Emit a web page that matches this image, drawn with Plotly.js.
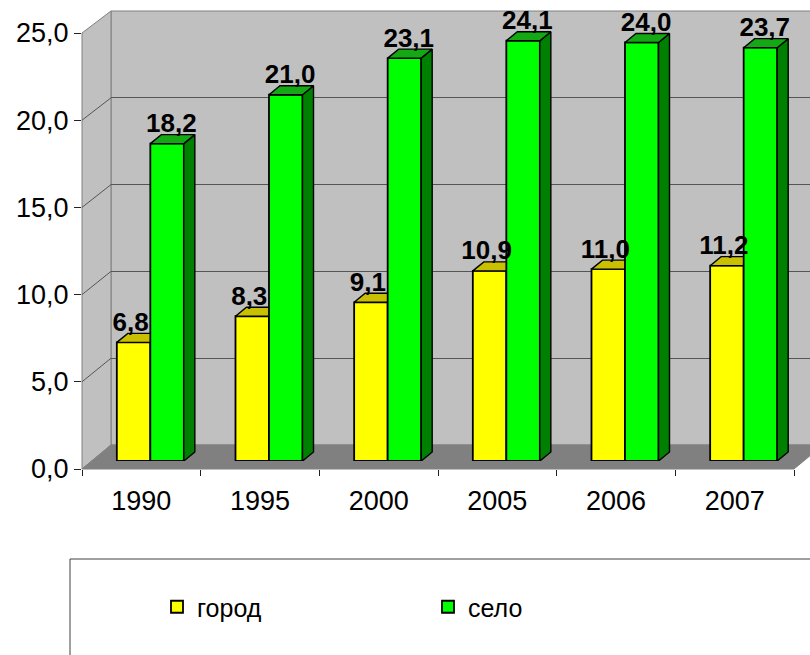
<!DOCTYPE html>
<html><head><meta charset="utf-8">
<script src="https://cdn.plot.ly/plotly-3.0.1.min.js"></script>
<style>html,body{margin:0;padding:0;background:#fff;}#chart{width:810px;height:655px;}</style>
</head><body><div id="chart"></div>
<script>
// ---- data ----
const years = ['1990', '1995', '2000', '2005', '2006', '2007'];
const gorod = [6.8, 8.3, 9.1, 10.9, 11.0, 11.2];
const selo = [18.2, 21.0, 23.1, 24.1, 24.0, 23.7];
const seriesNames = ['город', 'село'];
const yTicks = [0, 5, 10, 15, 20, 25];

// ---- geometry (pixels) ----
const W = 810, H = 655;
const FX0 = 82, FX1 = 794, FY0 = 469, FY25 = 33;   // front plane (axes)
const BX0 = 111, BY0 = 445, BY25 = 11;             // back wall
const PDX = 9, PDY = 8;                             // bar plane offset
const DPX = 11, DPY = 9;                            // bar depth
const px = x => x / W, py = y => 1 - y / H;
const catPx = (FX1 - FX0) / years.length;
const valPx = (FY0 - FY25) / 25;
const ddx = DPX / catPx, ddy = DPY / valPx;
const bw = 0.2824;
const fmt = v => v.toFixed(1).replace('.', ',');

const idx = years.map((_, i) => i);
const xG = idx.map(i => i - bw / 2), xS = idx.map(i => i + bw / 2);

function topFaces(xc, vals) {
  const X = [], Y = [];
  xc.forEach((c, i) => { const l = c - bw / 2, r = c + bw / 2, v = vals[i];
    X.push(l, l + ddx, r + ddx, r, l, null); Y.push(v, v + ddy, v + ddy, v, v, null); });
  return {X, Y};
}
function sideFaces(xc, vals) {
  const X = [], Y = [];
  xc.forEach((c, i) => { const r = c + bw / 2, v = vals[i];
    X.push(r, r + ddx, r + ddx, r, r, null); Y.push(0, ddy, v + ddy, v, 0, null); });
  return {X, Y};
}
const gTop = topFaces(xG, gorod), sTop = topFaces(xS, selo), sSide = sideFaces(xS, selo);
const labDy = (DPY - 4) / valPx;

const common = {xaxis: 'x3', yaxis: 'y3', hoverinfo: 'skip'};
const labelFont = {family: 'Liberation Sans, Arial, sans-serif', size: 26, color: '#000', weight: 'bold'};
const traces = [
  {type: 'scatter', x: [0], y: [null], xaxis: 'x', yaxis: 'y', showlegend: false, hoverinfo: 'skip'},
  {type: 'scatter', x: years, y: years.map(() => null), xaxis: 'x2', yaxis: 'y2', showlegend: false, hoverinfo: 'skip'},
  Object.assign({type: 'bar', x: xG, y: gorod, width: bw, name: seriesNames[0],
    marker: {color: '#ffff00', line: {color: '#000', width: 1.8}}, zorder: 0}, common),
  Object.assign({type: 'scatter', mode: 'lines', x: gTop.X, y: gTop.Y, fill: 'toself', fillcolor: '#c8c000',
    line: {color: '#000', width: 1.4}, showlegend: false, zorder: 1, cliponaxis: false}, common),
  Object.assign({type: 'bar', x: xS, y: selo, width: bw, name: seriesNames[1],
    marker: {color: '#00ff00', line: {color: '#000', width: 1.8}}, zorder: 2}, common),
  Object.assign({type: 'scatter', mode: 'lines', x: sSide.X, y: sSide.Y, fill: 'toself', fillcolor: '#008000',
    line: {color: '#000', width: 1.4}, showlegend: false, zorder: 3, cliponaxis: false}, common),
  Object.assign({type: 'scatter', mode: 'lines', x: sTop.X, y: sTop.Y, fill: 'toself', fillcolor: '#14a814',
    line: {color: '#000', width: 1.4}, showlegend: false, zorder: 3, cliponaxis: false}, common),
  Object.assign({type: 'scatter', mode: 'text', x: xG.map(c => c - 0.025), y: gorod.map(v => v + labDy),
    text: gorod.map(fmt), textposition: 'top center', textfont: labelFont,
    showlegend: false, zorder: 4, cliponaxis: false}, common),
  Object.assign({type: 'scatter', mode: 'text', x: xS.map(c => c + ddx / 2 - 0.01), y: selo.map(v => v + labDy),
    text: selo.map(fmt), textposition: 'top center', textfont: labelFont,
    showlegend: false, zorder: 4, cliponaxis: false}, common)
];

// ---- decorative walls ----
const shapes = [];
shapes.push({type: 'rect', xref: 'paper', yref: 'paper', x0: px(BX0), x1: 1.05, y0: py(BY0), y1: py(BY25),
  fillcolor: '#c0c0c0', line: {color: '#808080', width: 1}, layer: 'below'});
shapes.push({type: 'path', xref: 'paper', yref: 'paper', layer: 'below', fillcolor: '#c0c0c0',
  line: {color: '#808080', width: 1},
  path: `M ${px(FX0)} ${py(FY25)} L ${px(BX0)} ${py(BY25)} L ${px(BX0)} ${py(BY0)} L ${px(FX0)} ${py(FY0)} Z`});
shapes.push({type: 'path', xref: 'paper', yref: 'paper', layer: 'below', fillcolor: '#808080',
  line: {color: '#808080', width: 1},
  path: `M ${px(FX0)} ${py(FY0)} L ${px(BX0)} ${py(BY0)} L ${px(FX1 + (BX0 - FX0))} ${py(BY0)} L ${px(FX1)} ${py(FY0)} Z`});
yTicks.slice(1, -1).forEach(v => {
  const yf = FY0 - v * valPx, yb = BY0 - v * (BY0 - BY25) / 25;
  shapes.push({type: 'line', xref: 'paper', yref: 'paper', layer: 'below', x0: px(FX0), y0: py(yf), x1: px(BX0), y1: py(yb),
    line: {color: '#555555', width: 1}});
});
// legend frame
shapes.push({type: 'rect', xref: 'paper', yref: 'paper', layer: 'below', x0: px(70), x1: 1.05, y0: py(559), y1: -0.05,
  fillcolor: '#ffffff', line: {color: '#404040', width: 1}});

const tickFont = {family: 'Liberation Sans, Arial, sans-serif', size: 27, color: '#000'};
const barTopPx = FY0 - PDY;
const layout = {
  width: W, height: H, margin: {l: 0, r: 0, t: 0, b: 0},
  paper_bgcolor: '#ffffff', plot_bgcolor: 'rgba(0,0,0,0)',
  separators: ', ', barmode: 'overlay', showlegend: true,
  xaxis: {domain: [px(BX0), 1], anchor: 'y', range: [0, 1], showgrid: false, zeroline: false, showticklabels: false, ticks: '', fixedrange: true},
  yaxis: {domain: [py(BY0), py(BY25)], anchor: 'x', range: [0, 25], tickvals: yTicks, showgrid: true, gridcolor: '#555555', gridwidth: 1,
    zeroline: false, showticklabels: false, ticks: '', showline: false, fixedrange: true},
  xaxis2: {domain: [px(FX0), px(FX1)], anchor: 'y2', type: 'category', categoryorder: 'array', categoryarray: years,
    range: [-0.5, years.length - 0.5], tickson: 'boundaries', ticks: 'outside', ticklen: 6, tickcolor: '#222',
    ticklabelstandoff: 8,
    showline: true, linecolor: '#222', linewidth: 1, showgrid: false, zeroline: false, tickfont: tickFont, fixedrange: true},
  yaxis2: {domain: [py(FY0), py(FY25)], anchor: 'x2', range: [0, 25], tickvals: yTicks, tickformat: '.1f',
    ticks: 'outside', ticklen: 7, tickcolor: '#222', showline: true, linecolor: '#555', linewidth: 1,
    showgrid: false, zeroline: false, tickfont: tickFont, fixedrange: true},
  xaxis3: {domain: [px(FX0 + PDX), px(FX1 + PDX)], anchor: 'y3', range: [-0.5, years.length - 0.5], visible: false, fixedrange: true},
  yaxis3: {domain: [py(barTopPx), 1], anchor: 'x3', range: [0, barTopPx / valPx], visible: false, fixedrange: true},
  legend: {orientation: 'h', x: px(157), xanchor: 'left', y: py(607), yanchor: 'middle',
    font: {family: 'Liberation Sans, Arial, sans-serif', size: 25, color: '#000'},
    entrywidthmode: 'pixels', entrywidth: 226, bgcolor: 'rgba(0,0,0,0)', borderwidth: 0, traceorder: 'normal'},
  shapes: shapes
};
Plotly.newPlot('chart', traces, layout, {staticPlot: true, displayModeBar: false});
</script>
</body></html>
